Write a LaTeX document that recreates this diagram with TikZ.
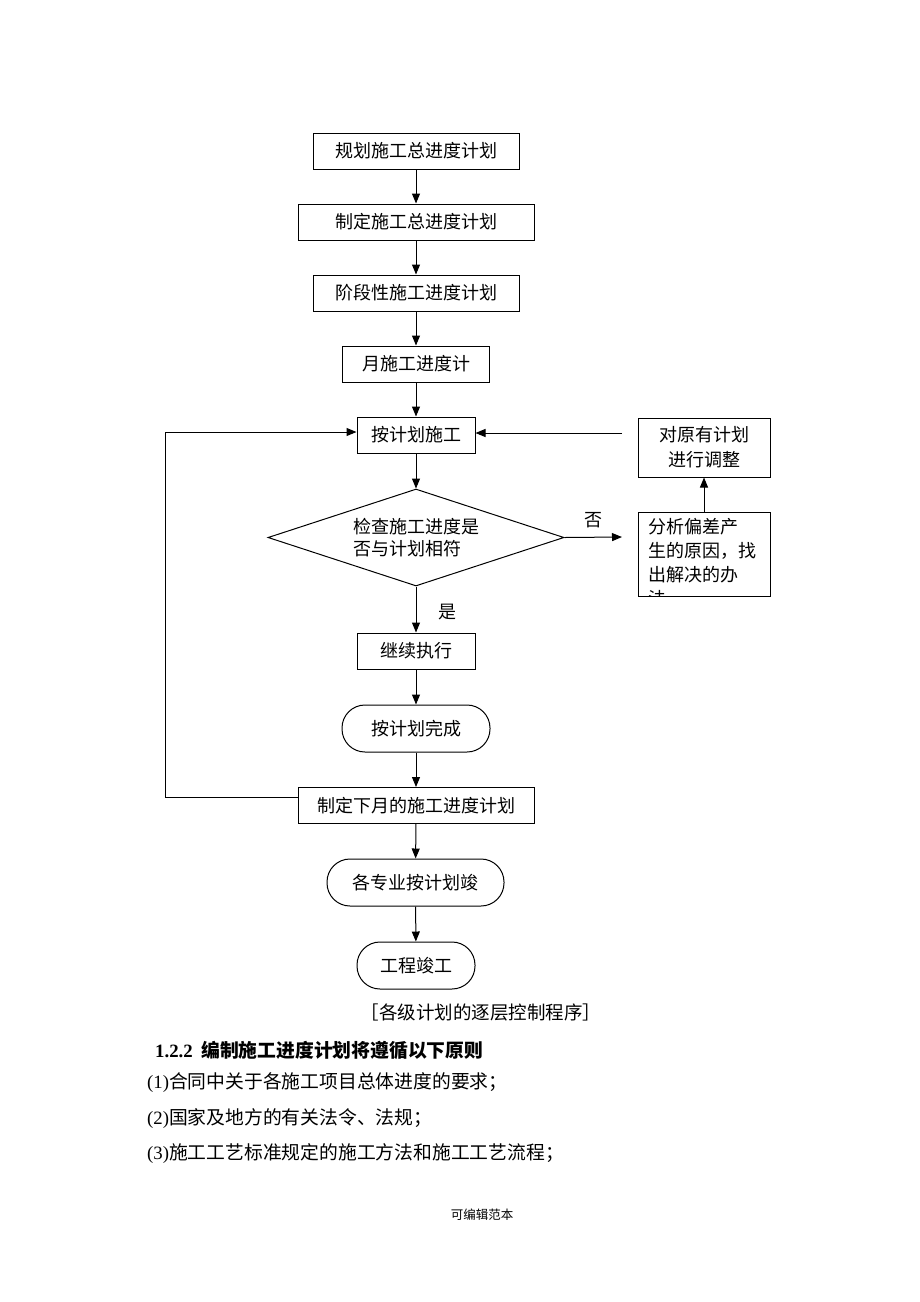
\documentclass[tikz,border=0pt]{standalone}
\usepackage{fontspec}
\setmainfont{Liberation Serif}
\newfontfamily\cjk{Noto Sans CJK SC}
\usetikzlibrary{arrows.meta,shapes.geometric}
\begin{document}
\begin{tikzpicture}[x=1pt,y=-1pt,
  box/.style={draw, line width=1pt, minimum height=36pt, inner sep=0pt, font=\cjk\fontsize{18}{22}\selectfont},
  rbox/.style={box, rounded corners=23pt, minimum height=47pt},
  arr/.style={-{Triangle[length=10pt,width=8pt]}, line width=1pt},
  lbl/.style={inner sep=0pt, font=\cjk\fontsize{18}{22}\selectfont},
  body/.style={inner sep=0pt, anchor=west, font=\cjk\fontsize{18.8}{22}\selectfont}]
\useasboundingbox (0,0) rectangle (920,1302);
\fill[white] (0,0) rectangle (920,1302);

\node[box, minimum width=206pt] (b1) at (416,151) {规划施工总进度计划};
\node[box, minimum width=236pt] (b2) at (416,222) {制定施工总进度计划};
\node[box, minimum width=206pt] (b3) at (416,293) {阶段性施工进度计划};
\node[box, minimum width=147pt] (b4) at (416,364) {月施工进度计};
\node[box, minimum width=118pt] (b5) at (416,435) {按计划施工};
\node[box, shape=diamond, aspect=3.05, minimum width=296pt, minimum height=97pt, align=left] (d) at (416,537.5) {检查施工进度是\\否与计划相符};
\node[box, minimum width=118pt] (b6) at (416,651) {继续执行};
\node[rbox, minimum width=148pt] (r1) at (416,728.5) {按计划完成};
\node[box, minimum width=236pt] (b7) at (416,805.5) {制定下月的施工进度计划};
\node[rbox, minimum width=177pt] (r2) at (415.5,882.5) {各专业按计划竣};
\node[rbox, minimum width=118pt] (r3) at (416,965.5) {工程竣工};

\node[box, minimum width=132pt, minimum height=59pt, align=center, font=\cjk\fontsize{18}{25}\selectfont] (adj) at (704,447.5) {对原有计划\\进行调整};
\node[box, minimum width=132pt, minimum height=84pt] (ana) at (704,554) {};
\begin{scope}
  \clip (ana.south west) rectangle (ana.north east);
  \node[anchor=north west, align=left, inner sep=0pt, font=\cjk\fontsize{18}{24}\selectfont] (anatext) at ([xshift=11pt,yshift=-7pt]ana.north west) {分析偏差产\\生的原因，找\\出解决的办\\法};
\end{scope}

\coordinate (adjl) at (622,433);
\coordinate (noend) at (622,537);
\coordinate (lpb) at (165,797);
\coordinate (lpt) at (165,432);

\draw[arr] (b1) -- (b2);
\draw[arr] (b2) -- (b3);
\draw[arr] (b3) -- (b4);
\draw[arr] (b4) -- (b5);
\draw[arr] (b5) -- (d.north);
\draw[arr] (d.south) -- (b6);
\draw[arr] (b6) -- (r1);
\draw[arr] (r1) -- (b7);
\draw[arr] (b7) -- (r2);
\draw[arr] (r2) -- (r3);
\draw[arr] (d.east) -- (noend);
\draw[arr] (ana.north) -- (adj.south);
\draw[arr] (adjl) -- (adjl -| b5.east);
\draw[arr] (lpb -| b7.west) -- (lpb) -- (lpt) -- (lpt -| b5.west);

\node[lbl] (no) at (593,520) {否};
\node[lbl] (yes) at (447,612) {是};

\node[lbl, font=\cjk\fontsize{18.5}{22}\selectfont] (cap) at (481,1012) {［各级计划的逐层控制程序］};
\node[body] (h) at (155,1050) {{\rmfamily\bfseries 1.2.2}\ \ {\bfseries 编制施工进度计划将遵循以下原则}};
\node[body] (i1) at (147,1083) {{\rmfamily (1)}合同中关于各施工项目总体进度的要求；};
\node[body] (i2) at (147,1119) {{\rmfamily (2)}国家及地方的有关法令、法规；};
\node[body] (i3) at (147,1154) {{\rmfamily (3)}施工工艺标准规定的施工方法和施工工艺流程；};
\node[inner sep=0pt, font=\cjk\fontsize{12.5}{14}\selectfont] (ft) at (482,1215) {可编辑范本};
\end{tikzpicture}
\end{document}
